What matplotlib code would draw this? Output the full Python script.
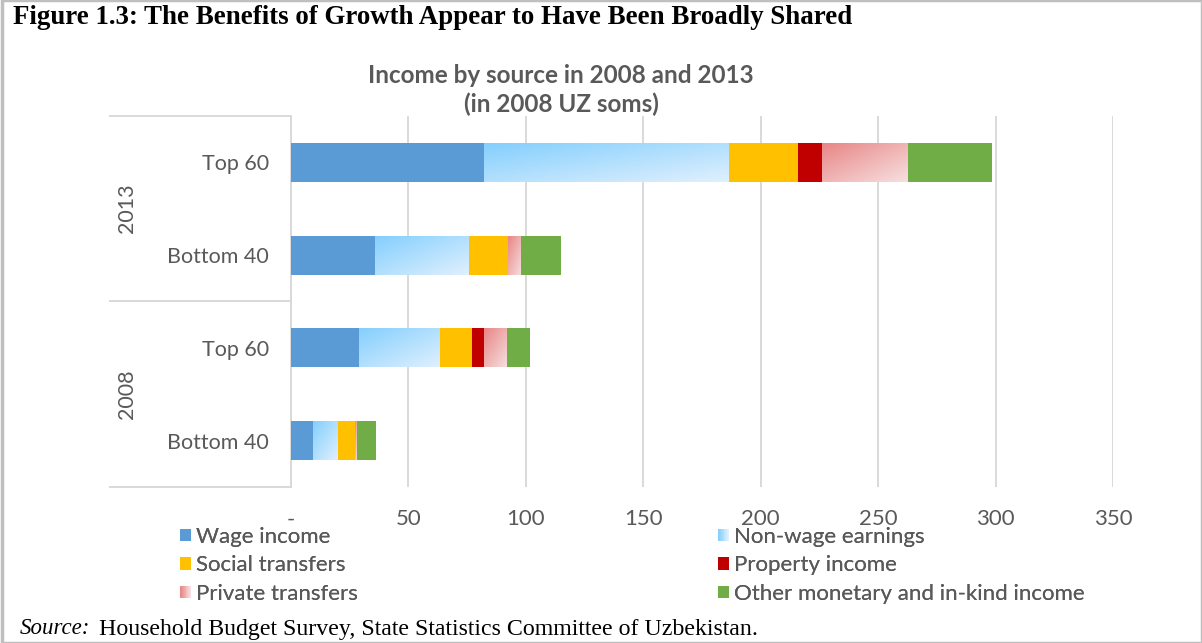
import numpy as np
import matplotlib
matplotlib.use("Agg")
import matplotlib.pyplot as plt
from matplotlib.patches import Rectangle
from matplotlib.lines import Line2D
from matplotlib.legend_handler import HandlerBase
from matplotlib.colors import to_rgb

# ---------------- data ----------------
categories = ["Top 60", "Bottom 40", "Top 60", "Bottom 40"]   # top to bottom
groups = ["2013", "2008"]
wage = [82.0, 35.7, 28.9, 9.4]
nonwage = [104.5, 40.0, 34.5, 10.6]
social = [29.5, 16.6, 13.6, 7.4]
prop = [10.0, 0.0, 5.1, 0.0]
private = [36.5, 5.6, 9.8, 0.7]
other = [36.0, 17.0, 9.8, 8.1]
series_names = ["Wage income", "Non-wage earnings", "Social transfers",
                "Property income", "Private transfers",
                "Other monetary and in-kind income"]
xticks = [0, 50, 100, 150, 200, 250, 300, 350]
xticklabels = ["-", "50", "100", "150", "200", "250", "300", "350"]

# ---------------- styles ----------------
SANS = ["Lato", "DejaVu Sans"]
GRAY = "#595959"
GRID = "#D9D9D9"
solid = {"Wage income": "#5B9BD5", "Social transfers": "#FFC000",
         "Property income": "#C00000",
         "Other monetary and in-kind income": "#70AD47"}
grad = {"Non-wage earnings": ("#84CFFD", "#E0F0FE"),
        "Private transfers": ("#E88686", "#F7E0E0")}

W, H = 1202, 643
fig = plt.figure(figsize=(W / 100, H / 100), dpi=100)
ax = fig.add_axes([291 / W, 1 - 487 / H, 822 / W, 371 / H])

y = np.arange(len(categories))
vals = [wage, nonwage, social, prop, private, other]
left = np.zeros(len(categories))
bar_h = 0.42


def gradient_img(c0, c1, nx=200, ny=40):
    u = np.linspace(0, 1, nx)[None, :]
    v = np.linspace(0, 1, ny)[:, None]
    t = (u + v) / 2.0
    a, b = np.array(to_rgb(c0)), np.array(to_rgb(c1))
    return a[None, None, :] * (1 - t[..., None]) + b[None, None, :] * t[..., None]


for name, v in zip(series_names, vals):
    v = np.array(v)
    if name in solid:
        ax.barh(y, v, left=left, height=bar_h, color=solid[name], zorder=3)
    else:
        bars = ax.barh(y, v, left=left, height=bar_h, facecolor="none",
                       edgecolor="none", zorder=3)
        img = gradient_img(*grad[name])
        for rect, yi, l, w in zip(bars, y, left, v):
            if w <= 0:
                continue
            im = ax.imshow(img, extent=(l, l + w, yi + bar_h / 2, yi - bar_h / 2),
                           aspect="auto", interpolation="bilinear", zorder=3)
            im.set_clip_path(rect)
    left = left + v

ax.set_xlim(0, 350)
ax.set_ylim(len(categories) - 0.5, -0.5)
ax.set_xticks(xticks)
ax.set_xticklabels(xticklabels, fontfamily=SANS, fontsize=16, color=GRAY)
ax.set_yticks(y)
ax.set_yticklabels(categories, fontfamily=SANS, fontsize=15.5, color=GRAY)
ax.tick_params(axis="x", length=0, pad=16)
ax.tick_params(axis="y", length=0, pad=16)
ax.xaxis.grid(True, color=GRID, linewidth=1.4, zorder=0)
ax.set_axisbelow(True)
for s in ["top", "right", "bottom"]:
    ax.spines[s].set_visible(False)
ax.spines["left"].set_color(GRID)
ax.spines["left"].set_linewidth(1.4)

# multi-level category axis lines
for yp in [116, 301, 487]:
    fig.add_artist(Line2D([110 / W, 291 / W], [1 - yp / H, 1 - yp / H],
                          transform=fig.transFigure, color=GRID, lw=1.4))
fig.text(127 / W, 1 - 208 / H, groups[0], rotation=90, ha="center", va="center",
         fontfamily=SANS, fontsize=15.5, color=GRAY)
fig.text(127 / W, 1 - 394 / H, groups[1], rotation=90, ha="center", va="center",
         fontfamily=SANS, fontsize=15.5, color=GRAY)

# titles
fig.text(13 / W, 1 - 18 / H, "Figure 1.3: The Benefits of Growth Appear to Have Been Broadly Shared",
         fontfamily="Liberation Serif", fontweight="bold", fontsize=19.4,
         ha="left", va="center", color="black")
fig.text(561 / W, 1 - 90 / H, "Income by source in 2008 and 2013\n(in 2008 UZ soms)",
         fontfamily=SANS, fontweight="bold", fontsize=17.5, color=GRAY,
         ha="center", va="center", linespacing=1.32)

# source
fig.text(20 / W, 1 - 629 / H, "Source:", fontfamily="Liberation Serif", style="italic",
         fontsize=16.5, ha="left", va="center")
fig.text(99 / W, 1 - 629 / H, "Household Budget Survey, State Statistics Committee of Uzbekistan.",
         fontfamily="Liberation Serif", fontsize=17.2, ha="left", va="center")


# legend with gradient swatches
class GradHandle:
    def __init__(self, c0, c1):
        self.c0, self.c1 = c0, c1


class GradHandler(HandlerBase):
    def create_artists(self, legend, orig, xd, yd, width, height, fontsize, trans):
        n = 12
        arts = []
        a, b = np.array(to_rgb(orig.c0)), np.array(to_rgb(orig.c1))
        for i in range(n):
            t = i / (n - 1)
            c = a * (1 - t) + b * t
            r = Rectangle((i * width / n - xd, -yd), width / n + 0.05, height,
                          facecolor=c, edgecolor="none", transform=trans)
            arts.append(r)
        return arts


handles = {}
for name in series_names:
    if name in solid:
        handles[name] = Rectangle((0, 0), 1, 1, facecolor=solid[name], edgecolor="none")
    else:
        handles[name] = GradHandle(*grad[name])
col1 = ["Wage income", "Social transfers", "Private transfers"]
col2 = ["Non-wage earnings", "Property income", "Other monetary and in-kind income"]
for col, xpx in [(col1, 180), (col2, 718)]:
    leg = fig.legend([handles[n] for n in col], col, ncol=1,
                     loc="upper left", bbox_to_anchor=(xpx / W, 1 - 527 / H),
                     frameon=False, prop={"family": SANS, "size": 16},
                     handlelength=0.5, handleheight=0.5, handletextpad=0.2,
                     labelspacing=0.38, borderpad=0, borderaxespad=0,
                     labelcolor=GRAY, handler_map={GradHandle: GradHandler()})
    fig.add_artist(leg)

# outer frame
fig.add_artist(Rectangle((2 / W, 0), 1 - 2 / W, 1, transform=fig.transFigure, fill=False,
                         edgecolor="#BFBFBF", lw=2.5))

fig.savefig("out.png", dpi=100)
